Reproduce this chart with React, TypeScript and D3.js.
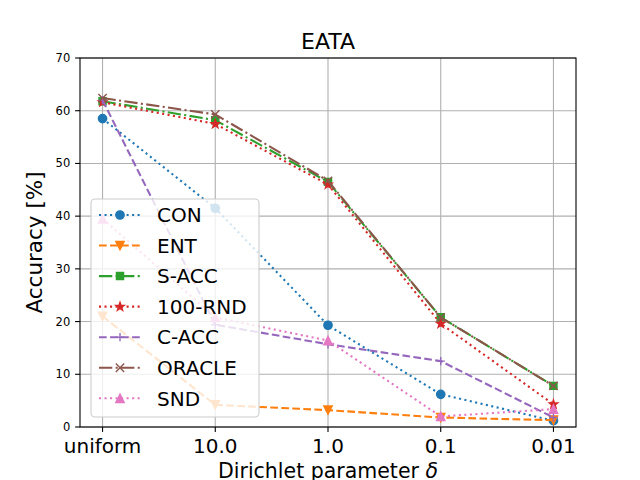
import React from 'react';
import * as d3 from 'd3';

const categories = ['uniform', '10.0', '1.0', '0.1', '0.01'];
const yTicks = [0, 10, 20, 30, 40, 50, 60, 70];

const conValues = [58.5, 41.5, 19.3, 6.2, 1.2];
const entValues = [21.0, 4.2, 3.2, 1.8, 1.3];
const saccValues = [61.8, 58.2, 46.5, 20.8, 7.8];
const rndValues = [61.6, 57.5, 46.0, 19.6, 4.3];
const caccValues = [62.0, 19.4, 15.7, 12.5, 1.8];
const oracleValues = [62.4, 59.3, 46.7, 20.8, 7.8];
const sndValues = [39.5, 20.8, 16.4, 2.0, 3.4];

type Marker = 'o' | 'v' | 's' | '*' | '+' | 'x' | '^';

interface Series {
  name: string;
  values: number[];
  color: string;
  dash: string;
  marker: Marker;
}

const LW = 2.08;
const DOT = `${LW * 1} ${LW * 1.65}`;
const DASH = `${LW * 3.7} ${LW * 1.6}`;
const DASHDOT = `${LW * 6.4} ${LW * 1.6} ${LW * 1} ${LW * 1.6}`;

const series: Series[] = [
  { name: 'CON', values: conValues, color: '#1f77b4', dash: DOT, marker: 'o' },
  { name: 'ENT', values: entValues, color: '#ff7f0e', dash: DASH, marker: 'v' },
  { name: 'S-ACC', values: saccValues, color: '#2ca02c', dash: DASHDOT, marker: 's' },
  { name: '100-RND', values: rndValues, color: '#d62728', dash: DOT, marker: '*' },
  { name: 'C-ACC', values: caccValues, color: '#9467bd', dash: DASH, marker: '+' },
  { name: 'ORACLE', values: oracleValues, color: '#8c564b', dash: DASHDOT, marker: 'x' },
  { name: 'SND', values: sndValues, color: '#e377c2', dash: DOT, marker: '^' },
];

const W = 640, H = 480;
const plot = { left: 80, right: 576, top: 58, bottom: 427 };
const MS = 8.33; // marker size in px (6pt)

// marker path centred on 0,0
const markerPath = (m: Marker): string => {
  const r = MS / 2;
  switch (m) {
    case 'o':
      return d3.symbol(d3.symbolCircle, Math.PI * r * r)() || '';
    case 's': {
      const s = r * 0.85;
      return `M${-s},${-s}H${s}V${s}H${-s}Z`;
    }
    case '^':
      return `M0,${-r}L${r},${r}L${-r},${r}Z`;
    case 'v':
      return `M0,${r}L${r},${-r}L${-r},${-r}Z`;
    case '*': {
      const pts: string[] = [];
      for (let i = 0; i < 10; i++) {
        const rr = i % 2 === 0 ? r * 1.05 : r * 0.42;
        const a = -Math.PI / 2 + (i * Math.PI) / 5;
        pts.push(`${rr * Math.cos(a)},${rr * Math.sin(a)}`);
      }
      return `M${pts.join('L')}Z`;
    }
    case '+':
      return `M${-r},0H${r}M0,${-r}V${r}`;
    case 'x':
      return `M${-r},${-r}L${r},${r}M${r},${-r}L${-r},${r}`;
  }
};

const MarkerMark: React.FC<{ m: Marker; color: string; x: number; y: number }> = ({ m, color, x, y }) => {
  const open = m === '+' || m === 'x';
  return (
    <path
      d={markerPath(m)}
      transform={`translate(${x},${y})`}
      fill={open ? 'none' : color}
      stroke={color}
      strokeWidth={1.39}
      strokeLinejoin="miter"
    />
  );
};

const App: React.FC = () => {
  const x = d3.scaleLinear().domain([-0.2, categories.length - 1 + 0.2]).range([plot.left, plot.right]);
  const y = d3.scaleLinear().domain([0, 70]).range([plot.bottom, plot.top]);

  const line = d3.line<number>()
    .x((_, i) => x(i))
    .y(d => y(d));

  const font = 'DejaVu Sans, sans-serif';
  const legend = { x: 91, y: 199, w: 168, h: 218, row0: 215, step: 30.55 };

  return (
    <svg width={W} height={H} style={{ position: 'absolute', left: 0, top: 0, background: '#fff' }} fontFamily={font}>
      {/* grid */}
      <g stroke="#b0b0b0" strokeWidth={1.1}>
        {categories.map((c, i) => (
          <line key={c} x1={x(i)} x2={x(i)} y1={plot.top} y2={plot.bottom} />
        ))}
        {yTicks.map(t => (
          <line key={t} x1={plot.left} x2={plot.right} y1={y(t)} y2={y(t)} />
        ))}
      </g>

      {/* series */}
      <g>
        {series.map(s => (
          <g key={s.name}>
            <path d={line(s.values) || ''} fill="none" stroke={s.color} strokeWidth={LW} strokeDasharray={s.dash} />
            {s.values.map((v, i) => (
              <MarkerMark key={i} m={s.marker} color={s.color} x={x(i)} y={y(v)} />
            ))}
          </g>
        ))}
      </g>

      {/* frame */}
      <rect x={plot.left} y={plot.top} width={plot.right - plot.left} height={plot.bottom - plot.top}
        fill="none" stroke="#000" strokeWidth={1.1} />

      {/* x axis */}
      <g>
        {categories.map((c, i) => (
          <g key={c} transform={`translate(${x(i)},${plot.bottom})`}>
            <line y2={4.9} stroke="#000" strokeWidth={1.1} />
            <text y={26} textAnchor="middle" fontSize={20} fill="#000">{c}</text>
          </g>
        ))}
        <text x={(plot.left + plot.right) / 2} y={478} textAnchor="middle" fontSize={20.5} fill="#000">
          Dirichlet parameter <tspan fontStyle="italic">δ</tspan>
        </text>
      </g>

      {/* y axis */}
      <g>
        {yTicks.map(t => (
          <g key={t} transform={`translate(${plot.left},${y(t)})`}>
            <line x2={-4.9} stroke="#000" strokeWidth={1.1} />
            <text x={-9.8} dy="0.35em" textAnchor="end" fontSize={11.5} fill="#000">{t}</text>
          </g>
        ))}
        <text transform={`translate(42,${(plot.top + plot.bottom) / 2}) rotate(-90)`} textAnchor="middle"
          fontSize={21.5} fill="#000">Accuracy [%]</text>
      </g>

      {/* title */}
      <text x={(plot.left + plot.right) / 2} y={49} textAnchor="middle" fontSize={22} fill="#000">EATA</text>

      {/* legend */}
      <g>
        <rect x={legend.x} y={legend.y} width={legend.w} height={legend.h} rx={4} ry={4}
          fill="#fff" fillOpacity={0.8} stroke="#cccccc" strokeWidth={1.1} />
        {series.map((s, i) => {
          const ry = legend.row0 + i * legend.step;
          return (
            <g key={s.name}>
              <line x1={99} x2={140} y1={ry} y2={ry} stroke={s.color} strokeWidth={LW} strokeDasharray={s.dash} />
              <MarkerMark m={s.marker} color={s.color} x={120} y={ry} />
              <text x={157} y={ry} dy="0.36em" fontSize={20} fill="#000">{s.name}</text>
            </g>
          );
        })}
      </g>
    </svg>
  );
};

export default App;
